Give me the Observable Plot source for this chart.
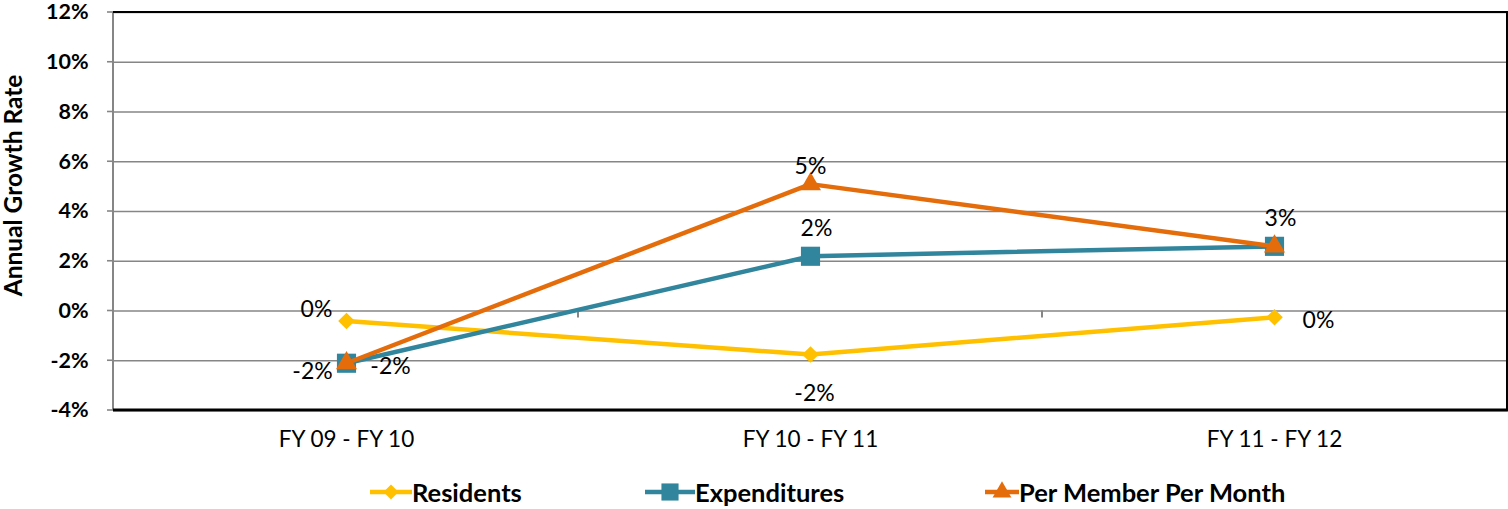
<!DOCTYPE html>
<html>
<head>
<meta charset="utf-8">
<script src="https://cdn.jsdelivr.net/npm/d3@7"></script>
<script src="https://cdn.jsdelivr.net/npm/@observablehq/plot@0.6"></script>
<style>
  body { margin: 0; background: #fff; font-family: Lato, "Open Sans", sans-serif; }
  #chart { width: 1508px; }
  #legend { position: relative; width: 1508px; height: 39px; }
  .item { position: absolute; top: 2px; height: 39px; display: flex; align-items: center; font-weight: bold; font-size: 25.5px; color: #000; }
  .item svg { display: block; }
</style>
</head>
<body>
<div id="chart"></div>
<div id="legend"></div>
<script>
// ---- data ----
const categories = ["FY 09 - FY 10", "FY 10 - FY 11", "FY 11 - FY 12"];
const seriesNames = ["Residents", "Expenditures", "Per Member Per Month"];
const residents = [-0.4, -1.75, -0.25];
const expenditures = [-2.1, 2.2, 2.6];
const pmpm = [-2.1, 5.1, 2.6];
const yTicks = [-4, -2, 0, 2, 4, 6, 8, 10, 12];
// data-label placement (keyword per point; "none" = hidden)
const residentsLabelPos = ["above-left", "below", "right"];
const expendituresLabelPos = ["right", "above", "above"];
const pmpmLabelPos = ["left", "top", "none"];

// ---- styles ----
const colors = {"Residents": "#FFC000", "Expenditures": "#31859C", "Per Member Per Month": "#E46C0A"};
const symbols = {"Residents": "diamond2", "Expenditures": "square", "Per Member Per Month": "triangle"};
const radii = {"Residents": 7.5, "Expenditures": 10.8, "Per Member Per Month": 7.8};
const labelOffsets = {
  "above-left": {dx: -30, dy: -11},
  "above": {dx: 6, dy: -28},
  "top": {dx: 0, dy: -18},
  "below": {dx: 4, dy: 39},
  "right": {dx: 44, dy: 3},
  "left": {dx: -34, dy: 8}
};

const seriesValues = [residents, expenditures, pmpm];
const seriesPos = [residentsLabelPos, expendituresLabelPos, pmpmLabelPos];
const rows = [];
seriesNames.forEach((s, si) => {
  categories.forEach((c, ci) => {
    rows.push({series: s, cat: c, value: seriesValues[si][ci], pos: seriesPos[si][ci]});
  });
});

const fontFamily = "Lato, 'Open Sans', sans-serif";
const pct = v => `${Math.round(v)}%`;

const frameMark = (index, scales, values, dimensions) => {
  const {width, height, marginLeft, marginRight, marginTop, marginBottom} = dimensions;
  const x = scales.x, y = scales.y;
  const g = d3.create("svg:g");
  const right = width - marginRight;
  const bottom = height - marginBottom;
  // value-axis tick marks
  yTicks.forEach(t => {
    g.append("line").attr("x1", marginLeft - 6).attr("x2", marginLeft)
      .attr("y1", y(t)).attr("y2", y(t))
      .attr("stroke", "#868686").attr("stroke-width", 1.6);
  });
  g.append("line").attr("x1", marginLeft).attr("x2", marginLeft)
    .attr("y1", marginTop).attr("y2", bottom)
    .attr("stroke", "#868686").attr("stroke-width", 2);
  g.append("line").attr("x1", marginLeft).attr("x2", right + 1)
    .attr("y1", marginTop).attr("y2", marginTop)
    .attr("stroke", "#000").attr("stroke-width", 2);
  g.append("line").attr("x1", right).attr("x2", right)
    .attr("y1", marginTop).attr("y2", bottom)
    .attr("stroke", "#000").attr("stroke-width", 2);
  g.append("line").attr("x1", marginLeft).attr("x2", right + 1)
    .attr("y1", bottom).attr("y2", bottom)
    .attr("stroke", "#000").attr("stroke-width", 3);
  const y0 = y(0);
  for (let i = 1; i < categories.length; i++) {
    const xm = (x(categories[i - 1]) + x(categories[i])) / 2;
    g.append("line").attr("x1", xm).attr("x2", xm)
      .attr("y1", y0).attr("y2", y0 + 7)
      .attr("stroke", "#868686").attr("stroke-width", 2);
  }
  return g.node();
};

const marks = [
  Plot.gridY(yTicks, {stroke: "#868686", strokeOpacity: 1, strokeWidth: 1.6}),
  frameMark,
  // y tick labels
  Plot.text(yTicks, {
    y: d => d, frameAnchor: "left", textAnchor: "end", dx: -25,
    text: d => `${d}%`, fontSize: 21.5, fontWeight: "bold", fill: "#000"
  }),
  // x category labels
  Plot.text(categories, {
    x: d => d, frameAnchor: "bottom", dy: 36,
    text: d => d, fontSize: 22.5, fill: "#000"
  }),
  Plot.text(["Annual Growth Rate"], {
    frameAnchor: "left", textAnchor: "middle", dx: -99, dy: -26, rotate: -90,
    fontSize: 24.5, fontWeight: "bold", fill: "#000"
  })
];

seriesNames.forEach(s => {
  const data = rows.filter(r => r.series === s);
  marks.push(Plot.line(data, {x: "cat", y: "value", stroke: colors[s], strokeWidth: 4.5}));
  marks.push(Plot.dot(data, {x: "cat", y: "value", symbol: () => symbols[s], r: radii[s], fill: colors[s], stroke: "none"}));
});
Object.entries(labelOffsets).forEach(([pos, off]) => {
  marks.push(Plot.text(rows.filter(r => r.pos === pos), {
    x: "cat", y: "value", text: d => pct(d.value), dx: off.dx, dy: off.dy,
    fontSize: 23, fill: "#000"
  }));
});

const chart = Plot.plot({
  width: 1508,
  height: 470,
  marginTop: 12,
  marginBottom: 60,
  marginLeft: 113,
  marginRight: 1,
  style: {fontFamily, background: "#fff", overflow: "visible"},
  x: {type: "point", domain: categories, padding: 0.5, axis: null},
  y: {domain: [-4, 12], axis: null},
  symbol: {type: "identity"},
  marks
});
document.getElementById("chart").appendChild(chart);

// ---- legend ----
const legendLeft = {"Residents": 370, "Expenditures": 645, "Per Member Per Month": 985};
const swatchWidth = {"Residents": 42, "Expenditures": 50, "Per Member Per Month": 34};
const legend = d3.select("#legend");
seriesNames.forEach(s => {
  const item = legend.append("div").attr("class", "item").style("left", legendLeft[s] + "px");
  const w = swatchWidth[s];
  const svg = item.append("svg").attr("width", w).attr("height", 24);
  svg.append("line").attr("x1", 0).attr("x2", w).attr("y1", 12).attr("y2", 12)
    .attr("stroke", colors[s]).attr("stroke-width", 4.5);
  const sym = {diamond2: d3.symbolDiamond2, square: d3.symbolSquare, triangle: d3.symbolTriangle}[symbols[s]];
  svg.append("path").attr("transform", `translate(${w / 2},12)`)
    .attr("d", d3.symbol(sym, Math.PI * radii[s] * radii[s] * 0.8)())
    .attr("fill", colors[s]);
  item.append("span").text(s);
});
</script>
</body>
</html>
